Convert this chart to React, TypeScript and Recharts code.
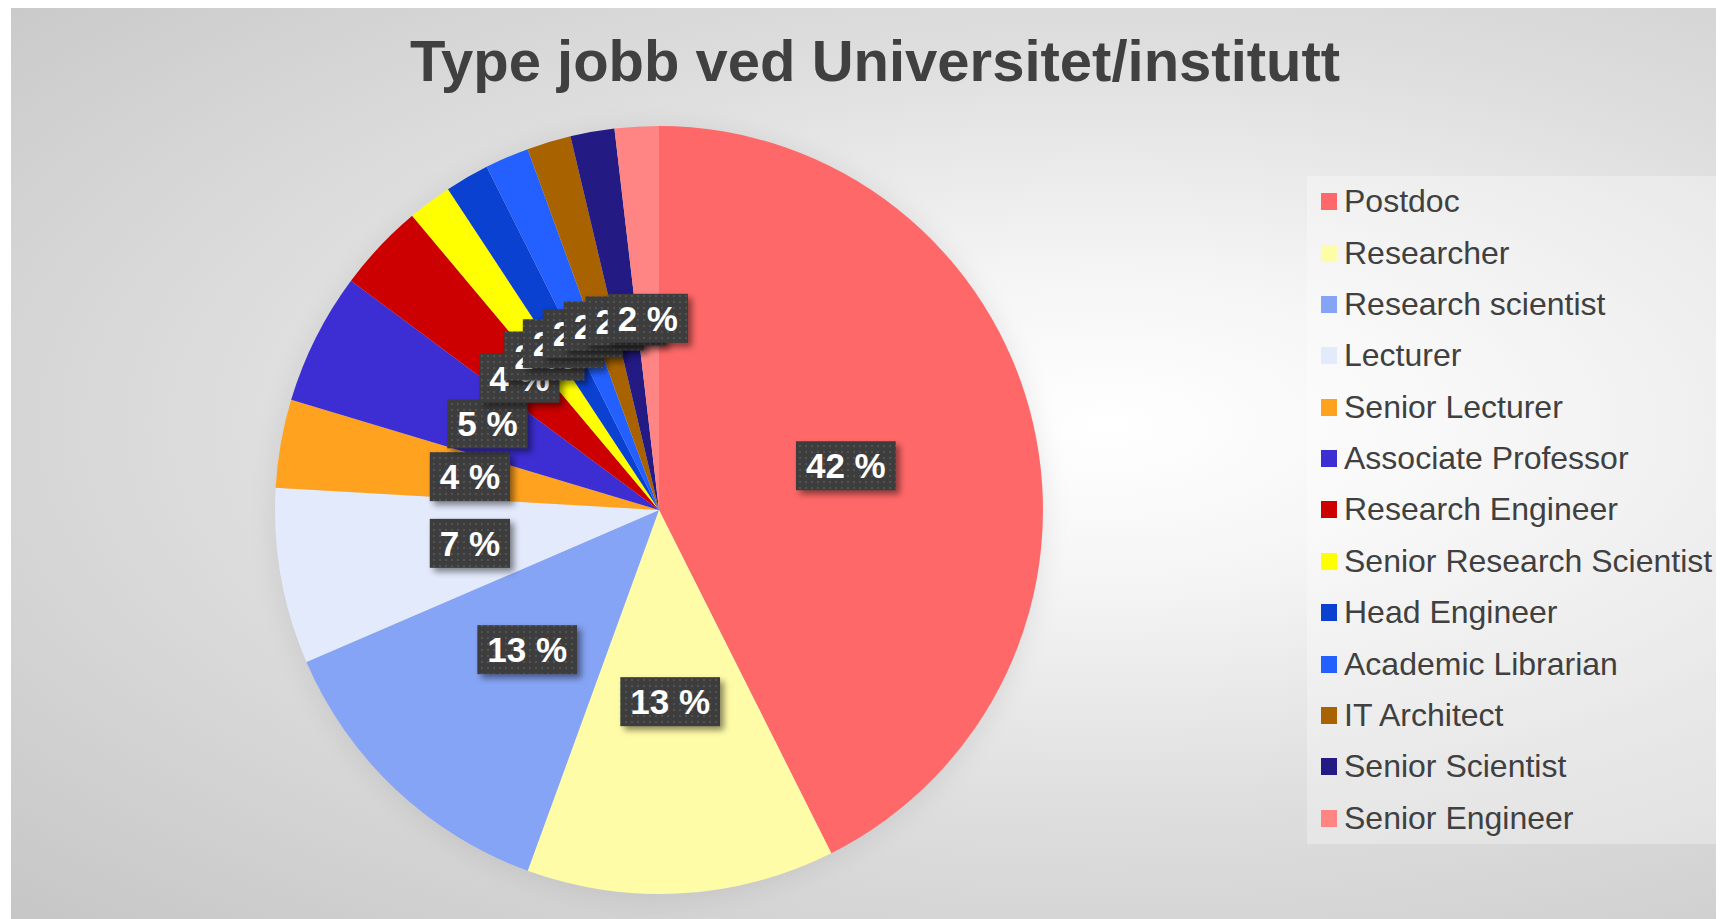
import React from "react";
import { PieChart, Pie, Cell, Legend } from "recharts";

const jobTypes = [
  "Postdoc",
  "Researcher",
  "Research scientist",
  "Lecturer",
  "Senior Lecturer",
  "Associate Professor",
  "Research Engineer",
  "Senior Research Scientist",
  "Head Engineer",
  "Academic Librarian",
  "IT Architect",
  "Senior Scientist",
  "Senior Engineer",
];

// number of answers per job type
const counts = [23, 7, 7, 4, 2, 3, 2, 1, 1, 1, 1, 1, 1];

const sliceColors = [
  "#FF6868",
  "#FFFCA8",
  "#86A4F5",
  "#E3EAFC",
  "#FFA21F",
  "#3D2ED4",
  "#CC0000",
  "#FFFF00",
  "#0B41D1",
  "#2360FF",
  "#A86300",
  "#231A83",
  "#FF8585",
];

const data = jobTypes.map((name, i) => ({
  name,
  value: counts[i],
  fill: sliceColors[i],
}));

// whole percents that add up to 100 (largest remainder), like Excel does
function roundedPercents(values: number[]) {
  const total = values.reduce((s, v) => s + v, 0);
  const raw = values.map((v) => (v / total) * 100);
  const out = raw.map(Math.floor);
  let left = 100 - out.reduce((s, v) => s + v, 0);
  const order = raw
    .map((r, i) => ({ i, rem: r - Math.floor(r) }))
    .sort((a, b) => b.rem - a.rem);
  for (const o of order) {
    if (left <= 0) break;
    out[o.i] += 1;
    left -= 1;
  }
  return out;
}

const percentLabels = roundedPercents(counts);

const FONT = '"Liberation Sans", Arial, sans-serif';
const RADIAN = Math.PI / 180;

// rough Arial Bold advance widths (em)
function boldWidth(s: string, size: number) {
  let w = 0;
  for (const ch of s) {
    if (ch === " ") w += 0.278;
    else if (ch === "%") w += 0.889;
    else w += 0.556;
  }
  return w * size;
}

function PercentLabel(props: any) {
  const { cx, cy, midAngle, outerRadius, name } = props;
  const idx = typeof props.index === "number" ? props.index : jobTypes.indexOf(name);
  const r = outerRadius * 0.5;
  const x = cx + r * Math.cos(-midAngle * RADIAN);
  const y = cy + r * Math.sin(-midAngle * RADIAN);
  const text = `${percentLabels[idx]} %`;
  const w = boldWidth(text, 35) + 20;
  const h = 49;
  return (
    <g>
      <defs>
        <pattern id="lblDots" width="6" height="6" patternUnits="userSpaceOnUse">
          <rect width="6" height="6" fill="#3d3d3d" />
          <rect x="2" y="2" width="2" height="2" fill="#525252" />
        </pattern>
      </defs>
      <rect
        x={x - w / 2}
        y={y - h / 2}
        width={w}
        height={h}
        fill="url(#lblDots)"
        style={{ filter: "drop-shadow(4px 4px 3px rgba(0,0,0,0.45))" }}
      />
      <text
        x={x}
        y={y}
        dy="0.36em"
        textAnchor="middle"
        fill="#ffffff"
        fontSize={35}
        fontWeight="bold"
        fontFamily={FONT}
      >
        {text}
      </text>
    </g>
  );
}

function LegendBox(props: any) {
  const payload = (props.payload || [])
    .filter((p: any) => p.type !== "none")
    .slice()
    .sort((a: any, b: any) => jobTypes.indexOf(a.value) - jobTypes.indexOf(b.value));
  return (
    <div
      style={{
        width: 417,
        height: 668,
        background: "rgba(255,255,255,0.3)",
        fontFamily: FONT,
      }}
    >
      {payload.map((entry: any) => (
        <div
          key={entry.value}
          style={{ height: 668 / 13, display: "flex", alignItems: "center" }}
        >
          <span
            style={{
              display: "inline-block",
              width: 16,
              height: 17,
              marginLeft: 14,
              marginRight: 7,
              background: entry.color || sliceColors[jobTypes.indexOf(entry.value)],
            }}
          />
          <span style={{ fontSize: 32, color: "#404040", whiteSpace: "nowrap" }}>
            {entry.value}
          </span>
        </div>
      ))}
    </div>
  );
}

export default function App() {
  return (
    <div
      style={{
        position: "relative",
        width: 1713,
        height: 915,
        margin: "-4px 0 0 3px",
        borderTop: "1px solid #b8b8b8",
        background:
          "radial-gradient(ellipse farthest-corner at 64% 46%, #ffffff 0%, #f5f5f5 22%, #dedede 55%, #c6c6c6 100%)",
        fontFamily: FONT,
      }}
    >
      <style>{`.pie-shadow { filter: blur(10px); opacity: 0.28; }`}</style>
      <div
        style={{
          position: "absolute",
          left: 264,
          top: 27,
          width: 1200,
          textAlign: "center",
          fontSize: 58,
          lineHeight: "58px",
          fontWeight: "bold",
          color: "#404040",
        }}
      >
        Type jobb ved Universitet/institutt
      </div>
      <div style={{ position: "absolute", left: 0, top: 0 }}>
        <PieChart
          width={1713}
          height={915}
          margin={{ top: 0, right: 0, bottom: 0, left: 0 }}
        >
          <Pie
            className="pie-shadow"
            data={data}
            dataKey="value"
            nameKey="name"
            cx={648}
            cy={508}
            outerRadius={386}
            startAngle={90}
            endAngle={-270}
            fill="#000000"
            stroke="none"
            legendType="none"
            isAnimationActive={false}
          >
            {data.map((d) => (
              <Cell key={d.name} fill="#000000" />
            ))}
          </Pie>
          <Pie
            data={data}
            dataKey="value"
            nameKey="name"
            cx={648}
            cy={505}
            outerRadius={384}
            startAngle={90}
            endAngle={-270}
            stroke="none"
            labelLine={false}
            label={PercentLabel}
            isAnimationActive={false}
          >
            {data.map((d) => (
              <Cell key={d.name} fill={d.fill} />
            ))}
          </Pie>
          <Legend
            content={LegendBox}
            wrapperStyle={{ left: 1296, top: 171, width: 417, height: 668 }}
          />
        </PieChart>
      </div>
    </div>
  );
}
